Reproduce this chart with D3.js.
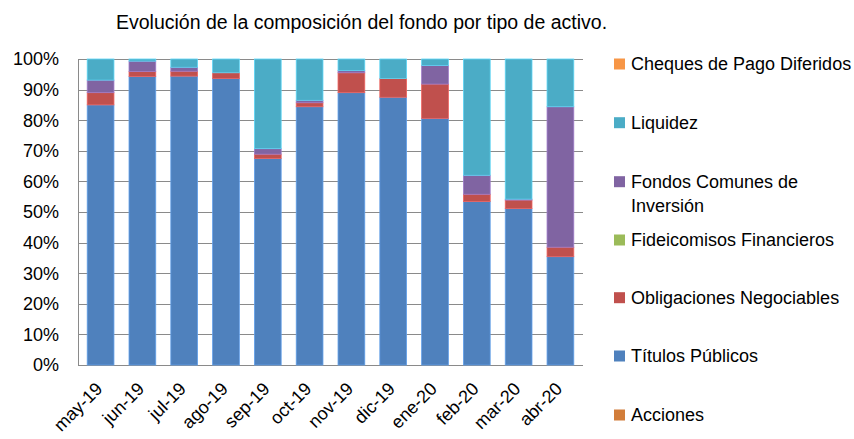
<!DOCTYPE html>
<html>
<head>
<meta charset="utf-8">
<script src="https://cdn.jsdelivr.net/npm/d3@7"></script>
<style>
  body { margin: 0; background: #fff; }
  text { font-family: "Liberation Sans", Arial, sans-serif; fill: #000; }
</style>
</head>
<body>
<svg id="chart" width="854" height="439"></svg>
<script>
// months on the x axis
const months = ["may-19", "jun-19", "jul-19", "ago-19", "sep-19", "oct-19", "nov-19", "dic-19", "ene-20", "feb-20", "mar-20", "abr-20"];

// share of each asset type, in %
const acciones = [0, 0, 0, 0, 0, 0, 0, 0, 0, 0, 0, 0];
const titulos = [85.0, 94.3, 94.4, 93.6, 67.5, 84.4, 89.0, 87.5, 80.6, 53.4, 51.1, 35.4];
const obligaciones = [4.0, 1.6, 1.6, 1.9, 1.4, 1.3, 6.5, 6.1, 11.2, 2.4, 2.8, 3.1];
const fideicomisos = [0, 0, 0, 0, 0, 0, 0, 0, 0, 0, 0, 0];
const fci = [4.1, 3.4, 1.3, 0, 1.8, 0.8, 0.7, 0, 6.1, 6.2, 0.3, 45.9];
const liquidez = [6.9, 0.7, 2.7, 4.5, 29.3, 13.5, 3.8, 6.4, 2.1, 38.0, 45.8, 15.6];
const cheques = [0, 0, 0, 0, 0, 0, 0, 0, 0, 0, 0, 0];

const yTicks = [0, 10, 20, 30, 40, 50, 60, 70, 80, 90, 100];

// stacking order bottom -> top
const series = [
  { key: "Acciones", values: acciones, color: "#d27d3a" },
  { key: "Títulos Públicos", values: titulos, color: "#4f81bd" },
  { key: "Obligaciones Negociables", values: obligaciones, color: "#c0504d" },
  { key: "Fideicomisos Financieros", values: fideicomisos, color: "#9bbb59" },
  { key: "Fondos Comunes de Inversión", values: fci, color: "#8064a2" },
  { key: "Liquidez", values: liquidez, color: "#4bacc6" },
  { key: "Cheques de Pago Diferidos", values: cheques, color: "#f79646" }
];

const svg = d3.select("#chart");
const margin = { left: 78, right: 271, top: 59, bottom: 74 };
const width = 854 - margin.left - margin.right;
const height = 439 - margin.top - margin.bottom;

const g = svg.append("g").attr("transform", `translate(${margin.left},${margin.top})`);

const x = d3.scaleBand().domain(months).range([0, width]).paddingInner(0.36).paddingOuter(0.22);
const y = d3.scaleLinear().domain([0, 100]).range([height, 0]);

// table for d3.stack
const rows = months.map((m, i) => {
  const r = { month: m };
  series.forEach(s => { r[s.key] = s.values[i]; });
  return r;
});
const stacked = d3.stack().keys(series.map(s => s.key))(rows);

// gridlines
g.selectAll("line.grid")
  .data(yTicks)
  .enter()
  .append("line")
  .attr("x1", 0)
  .attr("x2", width)
  .attr("y1", d => Math.round(y(d)) + 0.5)
  .attr("y2", d => Math.round(y(d)) + 0.5)
  .attr("stroke", "#8a8a8a")
  .attr("stroke-width", 1);

// left axis line
g.append("line")
  .attr("x1", 0.5).attr("x2", 0.5)
  .attr("y1", 0).attr("y2", height)
  .attr("stroke", "#8a8a8a");

// y labels
g.selectAll("text.ylab")
  .data(yTicks)
  .enter()
  .append("text")
  .attr("x", -19)
  .attr("y", d => y(d))
  .attr("dy", "0.35em")
  .attr("text-anchor", "end")
  .style("font-size", "18px")
  .text(d => d + "%");

// bars
stacked.forEach((layer, li) => {
  g.selectAll(null)
    .data(layer.filter(d => d[1] - d[0] > 0))
    .enter()
    .append("rect")
    .attr("x", d => x(d.data.month))
    .attr("width", x.bandwidth())
    .attr("y", d => y(d[1]))
    .attr("height", d => y(d[0]) - y(d[1]))
    .attr("fill", series[li].color)
    .attr("stroke", d3.color(series[li].color).brighter(0.6))
    .attr("stroke-width", 0.8);
});

// x labels
g.selectAll("text.xlab")
  .data(months)
  .enter()
  .append("text")
  .attr("text-anchor", "end")
  .attr("transform", d => `translate(${x(d) + x.bandwidth() / 2 + 3},${height + 25}) rotate(-45)`)
  .style("font-size", "18px")
  .text(d => d);

// title
svg.append("text")
  .attr("x", 116)
  .attr("y", 29)
  .style("font-size", "19.5px")
  .text("Evolución de la composición del fondo por tipo de activo.");

// legend (reverse order, top = last series)
const legendY = [64, 122.7, 181.7, 240, 297.7, 356, 415];
const legendItems = series.slice().reverse();
const lg = svg.append("g");
legendItems.forEach((s, i) => {
  const cy = legendY[i];
  lg.append("rect")
    .attr("x", 614)
    .attr("y", cy - 5.5)
    .attr("width", 11)
    .attr("height", 11)
    .attr("fill", s.color);
  const t = lg.append("text")
    .attr("x", 631)
    .attr("y", cy)
    .attr("dy", "0.35em")
    .style("font-size", "18px");
  if (s.key === "Fondos Comunes de Inversión") {
    t.append("tspan").attr("x", 631).text("Fondos Comunes de");
    t.append("tspan").attr("x", 631).attr("dy", "1.33em").text("Inversión");
  } else {
    t.text(s.key);
  }
});
</script>
</body>
</html>
